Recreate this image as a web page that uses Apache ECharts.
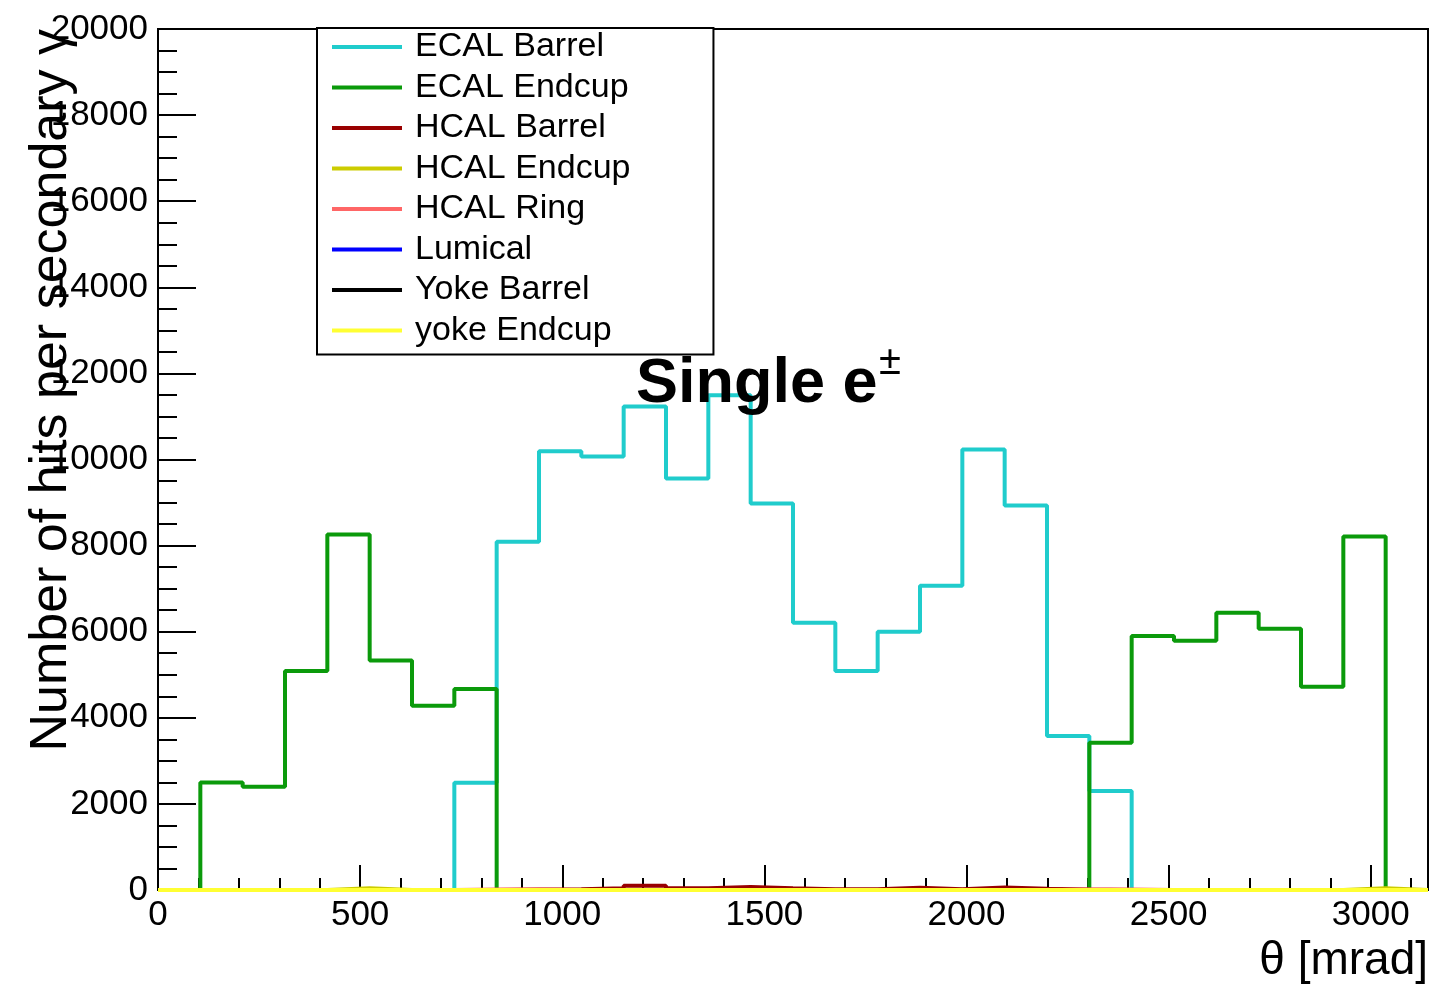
<!DOCTYPE html>
<html>
<head>
<meta charset="utf-8">
<script src="https://cdn.jsdelivr.net/npm/echarts@6/dist/echarts.min.js"></script>
<style>
html,body{margin:0;padding:0;background:#fff;}
#chart{width:1434px;height:986px;}
</style>
</head>
<body>
<div id="chart"></div>
<script>
// ---- data (30 bins from 0 to pi*1000 mrad) ----
const nBins = 30;
const thetaMax = Math.PI * 1000;
const seriesNames = ['ECAL Barrel','ECAL Endcup','HCAL Barrel','HCAL Endcup','HCAL Ring','Lumical','Yoke Barrel','yoke Endcup'];
const seriesColors = ['#20cccc','#0b9a0b','#990000','#cccc00','#ff6666','#0000ff','#000000','#ffff33'];

const ecalBarrel = [0,0,0,0,0,0,0,2490,8090,10190,10070,11230,9560,11490,8980,6210,5090,6000,7070,10230,8930,3580,2300,0,0,0,0,0,0,0];
const ecalEndcup = [0,2500,2400,5090,8260,5330,4280,4670,0,0,0,0,0,0,0,0,0,0,0,0,0,0,3420,5900,5790,6440,6070,4720,8210,0];
const hcalBarrel = [0,0,0,0,0,0,0,0,10,20,40,100,40,70,40,20,20,50,20,60,30,10,0,0,0,0,0,0,0,0];
const hcalEndcup = [0,0,0,0,40,0,0,0,0,0,0,0,0,0,0,0,0,0,0,0,0,0,0,0,0,0,0,0,40,0];
const hcalRing   = [0,0,0,0,0,0,0,10,10,0,0,0,0,0,0,0,0,0,0,0,0,10,10,0,0,0,0,0,0,0];
const lumical    = [0,0,0,0,0,0,0,0,0,0,0,0,0,0,0,0,0,0,0,0,0,0,0,0,0,0,0,0,0,0];
const yokeBarrel = [0,0,0,0,0,0,0,0,0,0,0,0,0,0,0,0,0,0,0,0,0,0,0,0,0,0,0,0,0,0];
const yokeEndcup = [0,0,0,0,0,0,0,0,0,0,0,0,0,0,0,0,0,0,0,0,0,0,0,0,0,0,0,0,0,0];
const seriesValues = [ecalBarrel, ecalEndcup, hcalBarrel, hcalEndcup, hcalRing, lumical, yokeBarrel, yokeEndcup];

const yTicks = [0,2000,4000,6000,8000,10000,12000,14000,16000,18000,20000];
const xTickLabels = [0,500,1000,1500,2000,2500,3000];

const titleMain = 'Single e';
const titleSup = '\u00b1';
const xTitle = '\u03b8 [mrad]';
const yTitle = 'Number of hits per secondary \u03b3';

// ---- build histogram step data from bin values ----
const binWidth = thetaMax / nBins;
function histData(vals){
  const d = vals.map((v,i)=>[i*binWidth, v]);
  d.push([nBins*binWidth, vals[vals.length-1]]);
  return d;
}

const FONT = 'Liberation Sans';
const chart = echarts.init(document.getElementById('chart'), null, {renderer:'canvas'});

const option = {
  animation: false,
  backgroundColor: '#fff',
  grid: {left:158, right:6, top:29, bottom:96, show:true, borderColor:'#000', borderWidth:2, backgroundColor:'transparent'},
  legend: {
    orient: 'vertical',
    left: 317, top: 28,
    data: seriesNames,
    icon: 'rect',
    itemWidth: 70, itemHeight: 4,
    itemGap: 6.5,
    padding: [2, 83, 7, 15],
    borderColor: '#000', borderWidth: 2,
    backgroundColor: '#fff',
    textStyle: {fontFamily: FONT, fontSize: 34, color: '#000', lineHeight: 30, padding:[0,0,0,8]},
    selectedMode: false
  },
  xAxis: [
    {
      type:'value', min:0, max:thetaMax, interval:100, position:'bottom',
      axisLine:{show:true, lineStyle:{color:'#000', width:2}},
      axisTick:{show:true, inside:true, length:12, lineStyle:{color:'#000', width:2}},
      splitLine:{show:false},
      axisLabel:{
        fontFamily:FONT, fontSize:35, color:'#000', margin:8, showMaxLabel:false,
        formatter: v => (xTickLabels.indexOf(Math.round(v)) >= 0 && Math.abs(v-Math.round(v))<1e-6) ? String(Math.round(v)) : ''
      }
    },
    {
      type:'value', min:0, max:thetaMax, interval:500, position:'bottom',
      axisLine:{show:false},
      axisTick:{show:true, inside:true, length:25, lineStyle:{color:'#000', width:2}},
      splitLine:{show:false},
      axisLabel:{show:false}
    }
  ],
  yAxis: {
    type:'value', min:yTicks[0], max:yTicks[yTicks.length-1], interval:2000,
    axisLine:{show:true, lineStyle:{color:'#000', width:2}},
    axisTick:{show:true, inside:true, length:38, lineStyle:{color:'#000', width:2}},
    minorTick:{show:true, splitNumber:4, length:19, lineStyle:{color:'#000', width:2}},
    splitLine:{show:false},
    axisLabel:{fontFamily:FONT, fontSize:35, color:'#000', margin:10, formatter: v => String(v)}
  },
  series: seriesNames.map((name,i)=>({
    name: name,
    type: 'line',
    xAxisIndex: 0,
    step: 'end',
    showSymbol: false,
    symbol: 'none',
    color: seriesColors[i],
    lineStyle: {color: seriesColors[i], width: 4},
    data: histData(seriesValues[i])
  })),
  graphic: [
    {type:'text', x:636, y:385, style:{text:titleMain, font:'bold 63px "Liberation Sans"', fill:'#000', textAlign:'left', textVerticalAlign:'middle'}, z:100},
    {type:'text', x:879, y:363, style:{text:titleSup, font:'40px "Liberation Sans"', fill:'#000', textAlign:'left', textVerticalAlign:'middle'}, z:100},
    {type:'text', x:1428, y:961, style:{text:xTitle, font:'46px "Liberation Sans"', fill:'#000', textAlign:'right', textVerticalAlign:'middle'}, z:100},
    {type:'text', x:52, y:29, rotation:Math.PI/2, style:{text:yTitle, font:'52px "Liberation Sans"', fill:'#000', textAlign:'right', textVerticalAlign:'middle'}, z:100}
  ]
};
chart.setOption(option);
</script>
</body>
</html>
